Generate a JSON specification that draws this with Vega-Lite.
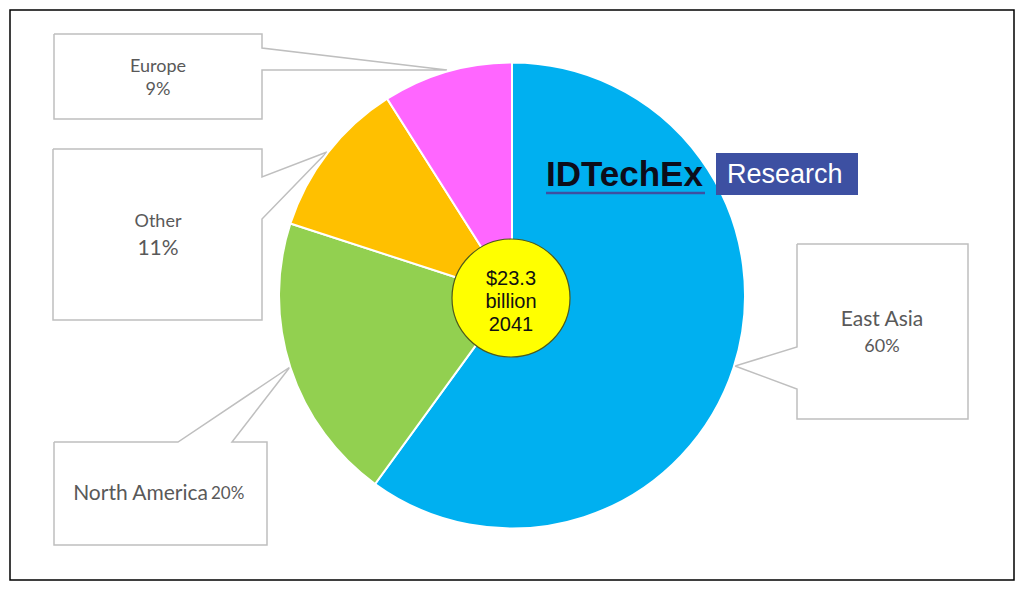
{
  "$schema": "https://vega.github.io/schema/vega-lite/v6.json",
  "width": 1024,
  "height": 591,
  "autosize": {"type": "fit", "contains": "padding"},
  "padding": 0,
  "background": "white",
  "config": {"view": {"stroke": null}},
  "datasets": {
    "regions": [
      {"region": "East Asia", "share": 60, "ord": 1},
      {"region": "North America", "share": 20, "ord": 2},
      {"region": "Other", "share": 11, "ord": 3},
      {"region": "Europe", "share": 9, "ord": 4}
    ],
    "frame": [{"x1": 10, "x2": 1014, "y1": 10, "y2": 580}],
    "callouts": [
      {"c": "Europe", "i": 1, "x": 54, "y": 34},
      {"c": "Europe", "i": 2, "x": 262, "y": 34},
      {"c": "Europe", "i": 3, "x": 262, "y": 48},
      {"c": "Europe", "i": 4, "x": 447, "y": 70},
      {"c": "Europe", "i": 5, "x": 262, "y": 70},
      {"c": "Europe", "i": 6, "x": 262, "y": 119},
      {"c": "Europe", "i": 7, "x": 54, "y": 119},
      {"c": "Europe", "i": 8, "x": 54, "y": 34},
      {"c": "Other", "i": 1, "x": 53, "y": 149},
      {"c": "Other", "i": 2, "x": 262, "y": 149},
      {"c": "Other", "i": 3, "x": 262, "y": 177},
      {"c": "Other", "i": 4, "x": 327, "y": 152},
      {"c": "Other", "i": 5, "x": 262, "y": 219},
      {"c": "Other", "i": 6, "x": 262, "y": 320},
      {"c": "Other", "i": 7, "x": 53, "y": 320},
      {"c": "Other", "i": 8, "x": 53, "y": 149},
      {"c": "North America", "i": 1, "x": 54, "y": 442},
      {"c": "North America", "i": 2, "x": 178, "y": 442},
      {"c": "North America", "i": 3, "x": 290, "y": 367},
      {"c": "North America", "i": 4, "x": 232, "y": 442},
      {"c": "North America", "i": 5, "x": 267, "y": 442},
      {"c": "North America", "i": 6, "x": 267, "y": 545},
      {"c": "North America", "i": 7, "x": 54, "y": 545},
      {"c": "North America", "i": 8, "x": 54, "y": 442},
      {"c": "East Asia", "i": 1, "x": 797, "y": 244},
      {"c": "East Asia", "i": 2, "x": 968, "y": 244},
      {"c": "East Asia", "i": 3, "x": 968, "y": 419},
      {"c": "East Asia", "i": 4, "x": 797, "y": 419},
      {"c": "East Asia", "i": 5, "x": 797, "y": 389},
      {"c": "East Asia", "i": 6, "x": 735, "y": 366},
      {"c": "East Asia", "i": 7, "x": 797, "y": 347},
      {"c": "East Asia", "i": 8, "x": 797, "y": 244}
    ],
    "labels": [
      {"t": "Europe", "x": 158, "y": 67, "role": "name"},
      {"t": "9%", "x": 158, "y": 90, "role": "name"},
      {"t": "Other", "x": 158, "y": 222, "role": "name"},
      {"t": "11%", "x": 158, "y": 249, "role": "big"},
      {"t": "East Asia", "x": 882, "y": 320, "role": "big"},
      {"t": "60%", "x": 882, "y": 347, "role": "name"}
    ],
    "na": [
      {"t": "North America", "x": 208, "y": 494, "role": "right"},
      {"t": "20%", "x": 211, "y": 494, "role": "left"}
    ],
    "centre": [{"x": 511, "y": 298}],
    "centreText": [
      {"t": "$23.3", "x": 511, "y": 279},
      {"t": "billion", "x": 511, "y": 302},
      {"t": "2041", "x": 511, "y": 325}
    ],
    "logoBox": [{"x1": 716, "x2": 858, "y1": 153, "y2": 195}],
    "logoLine": [{"x1": 546, "x2": 705, "y": 193}],
    "logoText": [
      {"t": "IDTechEx", "x": 546, "y": 175, "role": "brand"},
      {"t": "Research", "x": 727, "y": 175, "role": "sub"}
    ]
  },
  "layer": [
    {
      "data": {"name": "frame"},
      "mark": {"type": "rect", "fill": null, "stroke": "#000000", "strokeWidth": 1.5},
      "encoding": {
        "x": {"field": "x1", "type": "quantitative", "scale": {"domain": [0, 1024], "nice": false, "zero": false}, "axis": null},
        "x2": {"field": "x2"},
        "y": {"field": "y1", "type": "quantitative", "scale": {"domain": [0, 591], "nice": false, "zero": false, "reverse": true}, "axis": null},
        "y2": {"field": "y2"}
      }
    },
    {
      "data": {"name": "callouts"},
      "mark": {"type": "line", "stroke": "#BFBFBF", "strokeWidth": 1.5, "interpolate": "linear"},
      "encoding": {
        "x": {"field": "x", "type": "quantitative", "axis": null},
        "y": {"field": "y", "type": "quantitative", "axis": null},
        "detail": {"field": "c"},
        "order": {"field": "i", "type": "quantitative"}
      }
    },
    {
      "data": {"name": "regions"},
      "mark": {"type": "arc", "outerRadius": 233, "stroke": "white", "strokeWidth": 2},
      "encoding": {
        "theta": {"field": "share", "type": "quantitative", "stack": true},
        "order": {"field": "ord", "type": "quantitative"},
        "color": {
          "field": "region", "type": "nominal", "legend": null,
          "scale": {"domain": ["East Asia", "North America", "Other", "Europe"], "range": ["#00B0F0", "#92D050", "#FFC000", "#FF66FF"]}
        }
      }
    },
    {
      "data": {"name": "centre"},
      "mark": {"type": "point", "shape": "circle", "filled": true, "fill": "#FFFF00", "stroke": "#4F5A1A", "strokeWidth": 1.2, "opacity": 1, "size": 13924},
      "encoding": {
        "x": {"field": "x", "type": "quantitative"},
        "y": {"field": "y", "type": "quantitative"}
      }
    },
    {
      "data": {"name": "centreText"},
      "mark": {"type": "text", "font": "Liberation Sans", "fontSize": 20, "color": "#111111", "align": "center", "baseline": "middle"},
      "encoding": {
        "x": {"field": "x", "type": "quantitative"},
        "y": {"field": "y", "type": "quantitative"},
        "text": {"field": "t"}
      }
    },
    {
      "data": {"name": "labels"},
      "transform": [{"filter": "datum.role == 'name'"}],
      "mark": {"type": "text", "font": "Lato", "fontSize": 18, "color": "#595959", "align": "center", "baseline": "middle"},
      "encoding": {
        "x": {"field": "x", "type": "quantitative"},
        "y": {"field": "y", "type": "quantitative"},
        "text": {"field": "t"}
      }
    },
    {
      "data": {"name": "labels"},
      "transform": [{"filter": "datum.role == 'big'"}],
      "mark": {"type": "text", "font": "Lato", "fontSize": 21, "color": "#595959", "align": "center", "baseline": "middle"},
      "encoding": {
        "x": {"field": "x", "type": "quantitative"},
        "y": {"field": "y", "type": "quantitative"},
        "text": {"field": "t"}
      }
    },
    {
      "data": {"name": "na"},
      "transform": [{"filter": "datum.role == 'right'"}],
      "mark": {"type": "text", "font": "Lato", "fontSize": 21, "color": "#595959", "align": "right", "baseline": "middle"},
      "encoding": {
        "x": {"field": "x", "type": "quantitative"},
        "y": {"field": "y", "type": "quantitative"},
        "text": {"field": "t"}
      }
    },
    {
      "data": {"name": "na"},
      "transform": [{"filter": "datum.role == 'left'"}],
      "mark": {"type": "text", "font": "Lato", "fontSize": 17, "color": "#595959", "align": "left", "baseline": "middle"},
      "encoding": {
        "x": {"field": "x", "type": "quantitative"},
        "y": {"field": "y", "type": "quantitative"},
        "text": {"field": "t"}
      }
    },
    {
      "data": {"name": "logoBox"},
      "mark": {"type": "rect", "fill": "#3D50A2"},
      "encoding": {
        "x": {"field": "x1", "type": "quantitative"},
        "x2": {"field": "x2"},
        "y": {"field": "y1", "type": "quantitative"},
        "y2": {"field": "y2"}
      }
    },
    {
      "data": {"name": "logoLine"},
      "mark": {"type": "rule", "stroke": "#3D50A2", "strokeWidth": 2.5},
      "encoding": {
        "x": {"field": "x1", "type": "quantitative"},
        "x2": {"field": "x2"},
        "y": {"field": "y", "type": "quantitative"}
      }
    },
    {
      "data": {"name": "logoText"},
      "transform": [{"filter": "datum.role == 'brand'"}],
      "mark": {"type": "text", "font": "Liberation Sans", "fontWeight": "bold", "fontSize": 35, "color": "#0D0D1A", "align": "left", "baseline": "middle", "letterSpacing": -0.8},
      "encoding": {
        "x": {"field": "x", "type": "quantitative"},
        "y": {"field": "y", "type": "quantitative"},
        "text": {"field": "t"}
      }
    },
    {
      "data": {"name": "logoText"},
      "transform": [{"filter": "datum.role == 'sub'"}],
      "mark": {"type": "text", "font": "Liberation Sans", "fontSize": 27, "color": "#FFFFFF", "align": "left", "baseline": "middle"},
      "encoding": {
        "x": {"field": "x", "type": "quantitative"},
        "y": {"field": "y", "type": "quantitative"},
        "text": {"field": "t"}
      }
    }
  ]
}
